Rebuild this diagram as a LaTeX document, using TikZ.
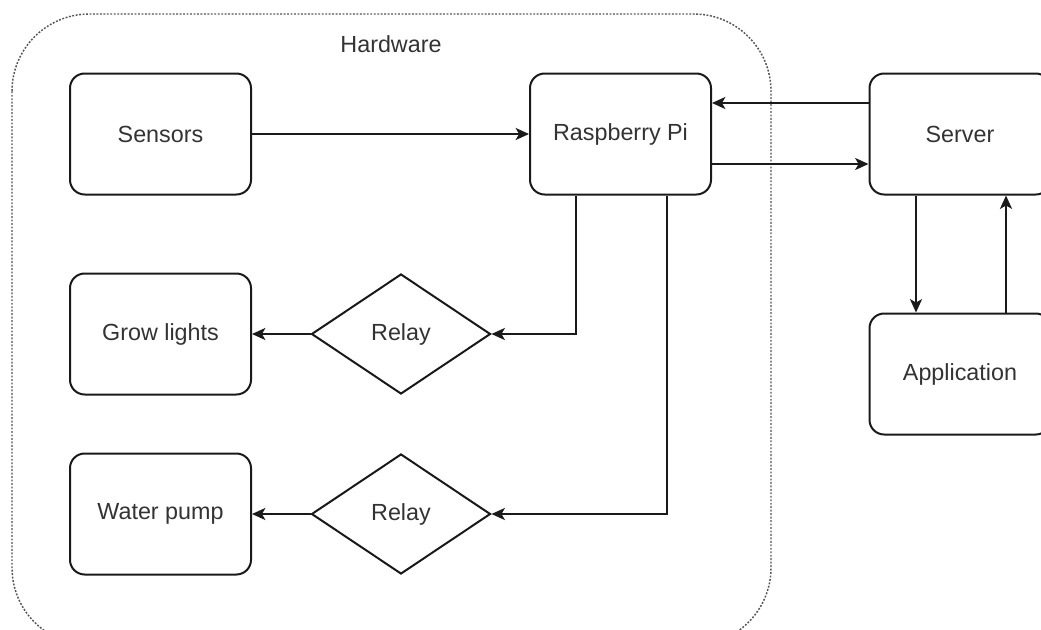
\documentclass[tikz,border=0pt]{standalone}
\usepackage{fontspec}
\setmainfont{Liberation Sans}
\usetikzlibrary{shapes.geometric,arrows.meta,calc}
\definecolor{txt}{HTML}{333333}
\definecolor{ln}{HTML}{1A1A1A}
\definecolor{frm}{HTML}{555555}
\tikzset{
  box/.style={draw=ln, line width=1.5pt, rounded corners=11pt, minimum width=135.75pt, minimum height=90.75pt, inner sep=0pt, text=txt, font=\fontsize{17.5}{20}\selectfont},
  relaybox/.style={draw=ln, line width=1.5pt, shape=diamond, minimum width=134.25pt, minimum height=90pt, inner sep=0pt, text=txt, font=\fontsize{17.5}{20}\selectfont},
  conn/.style={draw=ln, line width=1.5pt, -{Stealth[length=10pt,width=9pt,inset=2.5pt]}},
  hwframe/.style={draw=frm, line width=1.1pt, dash pattern=on 1.4pt off 1.2pt, rounded corners=58pt}
}
\begin{document}
\begin{tikzpicture}[x=0.75pt,y=-0.75pt]
\useasboundingbox (0,0) rectangle (1041,629);
\draw[hwframe] (12,14) rectangle (771,645);
\node[text=txt, font=\fontsize{17.5}{20}\selectfont] (hwlabel) at (391,44) {Hardware};

\node[box] (sens) at (160.5,134) {Sensors};
\node[box] (pi) at (620.5,134) {Raspberry Pi};
\node[box] (srv) at (960,134) {Server};
\node[box] (app) at (960,374) {Application};
\node[box] (grow) at (160.5,334) {Grow lights};
\node[box] (pump) at (160.5,514) {Water pump};
\node[relaybox] (relayA) at (401,334) {Relay};
\node[relaybox] (relayB) at (401,514) {Relay};

\draw[conn] (sens.east) -- (pi.west);
\draw[conn] ($(srv.west)+(0,-31)$) -- ($(pi.east)+(0,-31)$);
\draw[conn] ($(pi.east)+(0,30)$) -- ($(srv.west)+(0,30)$);
\draw[conn] ($(pi.south)+(-44.5,0)$) |- (relayA.east);
\draw[conn] ($(pi.south)+(46.5,0)$) |- (relayB.east);
\draw[conn] (relayA.west) -- (grow.east);
\draw[conn] (relayB.west) -- (pump.east);
\draw[conn] ($(srv.south)+(-44,0)$) -- ($(app.north)+(-44,0)$);
\draw[conn] ($(app.north)+(46,0)$) -- ($(srv.south)+(46,0)$);
\end{tikzpicture}
\end{document}
